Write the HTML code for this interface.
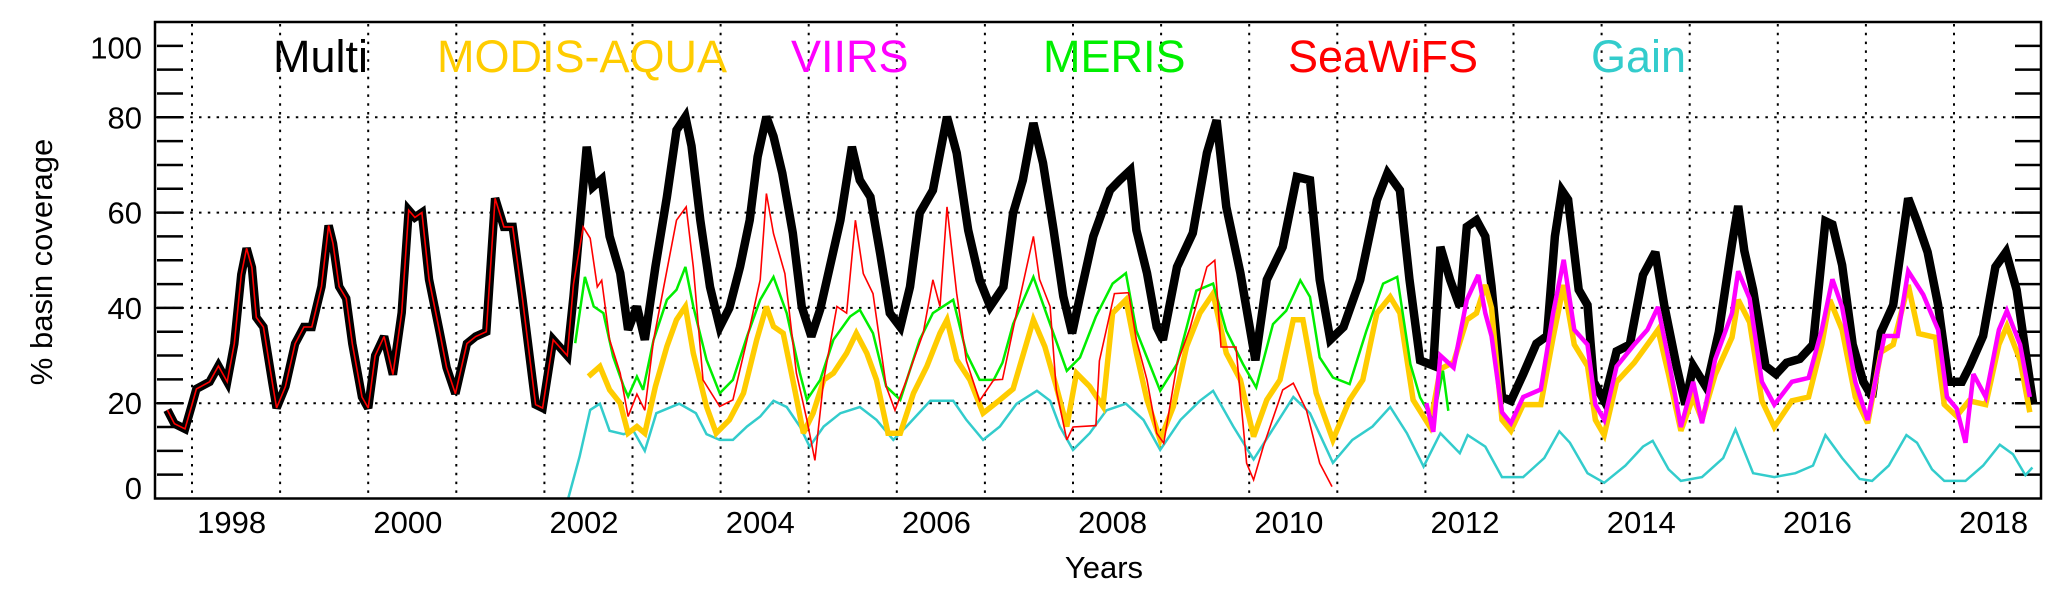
<!DOCTYPE html>
<html><head><meta charset="utf-8"><style>
html,body{margin:0;padding:0;background:#fff;}
svg{display:block;font-family:"Liberation Sans",Arial,sans-serif;}
</style></head><body>
<svg id="chart" width="2067" height="598" viewBox="0 0 2067 598" xmlns="http://www.w3.org/2000/svg">
<rect x="0" y="0" width="2067" height="598" fill="#fff"/>
<g id="grid"></g>
<g id="ticks"></g>
<g id="series"></g>
<rect x="155" y="22" width="1886" height="476.5" fill="none" stroke="#000" stroke-width="2.5"/>
<g id="labels"></g>
<text x="1104" y="578" font-size="31" text-anchor="middle">Years</text>
<text transform="translate(52,262) rotate(-90)" font-size="31" text-anchor="middle">% basin coverage</text>
<g id="legend" font-size="45">
<text x="273" y="72" fill="#000">Multi</text>
<text x="437" y="72" fill="#ffcc00">MODIS-AQUA</text>
<text x="791" y="72" fill="#ff00ff">VIIRS</text>
<text x="1043" y="72" fill="#00ee00">MERIS</text>
<text x="1288" y="72" fill="#ff0000">SeaWiFS</text>
<text x="1591" y="72" fill="#33cccc">Gain</text>
</g>
</svg>
<script>
const yGridValues = [20,40,60,80];
const yTickValues = [5,10,15,20,25,30,35,40,45,50,55,60,65,70,75,80,85,90,95];
const yLabelValues = [100,80,60,40,20,0];
const yLabelAt = [94.6,80,60,40,20,2.2];
const xYearLines = [1998,1999,2000,2001,2002,2003,2004,2005,2006,2007,2008,2009,2010,2011,2012,2013,2014,2015,2016,2017,2018];
const xLabelYears = [1998,2000,2002,2004,2006,2008,2010,2012,2014,2016,2018];

const multiT = [1997.72,1997.8,1997.92,1998.0,1998.05,1998.2,1998.3,1998.4,1998.48,1998.56,1998.62,1998.68,1998.73,1998.81,1998.91,1998.96,1999.06,1999.17,1999.27,1999.36,1999.47,1999.55,1999.6,1999.67,1999.75,1999.82,1999.93,2000.0,2000.08,2000.18,2000.28,2000.38,2000.46,2000.53,2000.61,2000.69,2000.81,2000.89,2000.99,2001.12,2001.22,2001.34,2001.44,2001.54,2001.64,2001.75,2001.9,2001.98,2002.1,2002.26,
2002.33,2002.48,2002.55,2002.65,2002.74,2002.86,2002.95,2003.05,2003.14,2003.26,2003.39,2003.5,2003.6,2003.67,2003.77,2003.88,2003.99,2004.1,2004.22,2004.33,2004.42,2004.52,2004.6,2004.7,2004.82,2004.92,2005.03,2005.13,2005.24,2005.36,2005.49,2005.58,2005.7,2005.81,2005.92,2006.04,2006.15,2006.26,2006.41,2006.57,2006.68,2006.81,2006.94,2007.06,2007.21,2007.32,2007.43,2007.55,2007.66,2007.78,2007.89,2007.99,2008.08,2008.23,2008.42,2008.53,2008.65,2008.72,2008.84,2008.95,2009.02,2009.18,2009.36,2009.52,2009.63,2009.74,2009.9,2010.07,2010.2,2010.38,2010.54,2010.69,2010.8,2010.92,2011.07,2011.26,2011.45,2011.57,2011.71,2011.82,2011.94,2012.09,2012.17,2012.28,2012.39,2012.47,2012.58,2012.68,2012.75,2012.87,2012.97,2013.11,2013.26,2013.38,2013.47,2013.55,2013.62,2013.74,2013.84,2013.91,2014.03,2014.17,2014.32,2014.47,2014.61,2014.71,2014.85,2014.95,2015.04,2015.19,2015.33,2015.48,2015.55,2015.62,2015.72,2015.86,2015.98,2016.1,2016.25,2016.4,2016.54,2016.62,2016.73,2016.85,2016.97,2017.07,2017.17,2017.31,2017.48,2017.58,2017.7,2017.82,2017.94,2018.09,2018.18,2018.33,2018.47,2018.59,2018.71,2018.81,2018.9];
const multiV = [18.6,15.7,14.6,19.7,23,24.5,27.8,24.5,32.5,47,52.5,48.5,38,36,24.5,19,23.5,32.5,36,36,44.5,57.3,53.5,44.5,42,32.5,21.3,19,30,34,26,39,60.5,59,60,46,35,27.5,22,32.5,34,35,63,57,57,42,19.7,19,33.3,30,
42.4,73.8,65.4,67,55,47.3,35.4,40.3,33.3,48.6,63.3,77.3,80.1,74,58.4,44.4,36,40,48.6,58.4,71.7,80.1,76,68.3,55.7,40.3,34,39.7,48.6,58.4,73.8,66.8,63.3,51.5,38.9,36,44.4,59.9,64.7,80.1,72.5,56.3,45.9,40.3,44.4,59.9,66.8,78.8,70.4,56.3,42.4,34.7,42.4,55,64.7,66.8,68.9,56.3,47.3,36,33.3,48.6,55.7,72.5,79.4,61.2,47.3,29,45.9,52.8,67.5,66.8,45.9,33.3,36,45.9,62.6,68.3,64.7,45.9,29,27.9,52.8,45.9,40.3,57,58.4,55,44.6,21.3,20.5,26.1,32.5,34.1,55,64.6,62.7,43.8,40.6,24.5,20.5,30.9,32.3,46.9,51.7,40.6,27.8,19.7,27.8,23.3,34.9,53.4,61.4,52,43.8,27.8,26.1,28.5,29.3,32.3,58.2,57.5,49,32.3,24.5,21.3,34.9,40.6,63,58.2,51.7,40.6,24.5,24.5,27.8,34.1,48.6,51.7,43.8,31,19.7];

const seawifsT = [1997.72,1997.8,1997.92,1998.0,1998.05,1998.2,1998.3,1998.4,1998.48,1998.56,1998.62,1998.68,1998.73,1998.81,1998.91,1998.96,1999.06,1999.17,1999.27,1999.36,1999.47,1999.55,1999.6,1999.67,1999.75,1999.82,1999.93,2000.0,2000.08,2000.18,2000.28,2000.38,2000.46,2000.53,2000.61,2000.69,2000.81,2000.89,2000.99,2001.12,2001.22,2001.34,2001.44,2001.54,2001.64,2001.75,2001.9,2001.98,2002.1,2002.26,
2002.33,2002.44,2002.52,2002.6,2002.65,2002.74,2002.86,2002.95,2003.05,2003.14,2003.24,2003.37,2003.5,2003.61,2003.69,2003.8,2003.99,2004.14,2004.3,2004.45,2004.52,2004.6,2004.73,2004.86,2004.98,2005.07,2005.17,2005.32,2005.43,2005.53,2005.62,2005.73,2005.88,2005.98,2006.11,2006.3,2006.41,2006.49,2006.57,2006.68,2006.79,2006.94,2007.1,2007.2,2007.36,2007.55,2007.62,2007.74,2007.81,2007.93,2008.0,2008.26,2008.3,2008.47,2008.63,2008.72,2008.84,2008.95,2009.03,2009.18,2009.33,2009.52,2009.61,2009.68,2009.85,2009.97,2010.05,2010.16,2010.38,2010.5,2010.65,2010.8,2010.94];
const seawifsV = [18.6,15.7,14.6,19.7,23,24.5,27.8,24.5,32.5,47,52.5,48.5,38,36,24.5,19,23.5,32.5,36,36,44.5,57.3,53.5,44.5,42,32.5,21.3,19,30,34,26,39,60.5,59,60,46,35,27.5,22,32.5,34,35,63,57,57,42,19.7,19,33.3,30,
45,57,54.6,44.4,45.8,33.3,26.3,17.2,21.9,18.5,33.3,45.9,58.4,61.2,48.6,24.9,19.3,20.7,33.3,45.9,64,55.6,47.2,26.3,16.5,8,24.9,40.3,38.9,58.4,47.2,43,23.5,18.5,24.9,34.7,45.9,40.3,61.2,43,28.9,20.5,24.9,25,39,55,46,40.3,22.8,12.3,15,15.3,28.9,43,43.2,33.3,24.9,13.7,11.6,28.2,35.9,48.6,50,31.8,31.8,7.4,3.9,10.9,22.8,24.2,18.5,7.4,2.5];

const merisT = [2002.35,2002.46,2002.56,2002.67,2002.78,2002.9,2002.95,2003.05,2003.12,2003.24,2003.39,2003.5,2003.6,2003.69,2003.84,2003.99,2004.14,2004.3,2004.45,2004.6,2004.75,2004.9,2004.98,2005.13,2005.28,2005.47,2005.58,2005.73,2005.88,2006.04,2006.26,2006.41,2006.64,2006.79,2006.94,2007.1,2007.2,2007.32,2007.55,2007.74,2007.93,2008.08,2008.26,2008.45,2008.6,2008.72,2008.87,2008.99,2009.18,2009.4,2009.59,2009.74,2009.93,2010.08,2010.27,2010.42,2010.58,2010.69,2010.8,2010.95,2011.14,2011.33,2011.52,2011.68,2011.83,2011.94,2012.09,2012.2,2012.26];
const merisV = [32.6,46.5,40.3,38.9,29.8,23.5,21.4,25.6,22.8,33.3,41.7,43.8,48.6,40.3,29.1,22.1,24.9,34,41.7,46.5,38.9,26.3,20.7,24.9,33.3,38.2,39.6,34.7,23.5,20.7,33.3,38.9,41.7,30.5,24.9,24.9,28.5,36.6,46.5,36.6,26.8,29.6,38.2,45.1,47.3,35.2,28.2,22.6,28.2,43.6,45.1,35.2,28.2,23.3,36.6,39.4,45.8,42.3,29.6,25.4,24,35.2,45.1,46.5,28.2,21.2,16.3,26.8,18.4];

const modisT = [2002.5,2002.63,2002.74,2002.86,2002.95,2003.05,2003.14,2003.26,2003.39,2003.5,2003.6,2003.69,2003.84,2003.95,2004.1,2004.26,2004.41,2004.52,2004.6,2004.71,2004.82,2004.94,2005.05,2005.17,2005.28,2005.43,2005.54,2005.66,2005.77,2005.9,2006.04,2006.19,2006.34,2006.49,2006.57,2006.68,2006.83,2006.98,2007.17,2007.32,2007.55,2007.68,2007.81,2007.93,2008.04,2008.19,2008.34,2008.45,2008.6,2008.72,2008.84,2008.99,2009.14,2009.29,2009.44,2009.59,2009.74,2009.9,2010.05,2010.2,2010.35,2010.5,2010.61,2010.76,2010.95,2011.14,2011.29,2011.45,2011.6,2011.71,2011.86,2012.05,2012.17,2012.32,2012.47,2012.58,2012.68,2012.75,2012.87,2012.97,2013.11,2013.31,2013.45,2013.57,2013.69,2013.84,2013.93,2014.03,2014.17,2014.37,2014.52,2014.64,2014.76,2014.9,2015.04,2015.14,2015.29,2015.48,2015.55,2015.68,2015.82,2015.96,2016.16,2016.35,2016.5,2016.59,2016.73,2016.88,2017.02,2017.17,2017.31,2017.48,2017.6,2017.79,2017.89,2018.03,2018.17,2018.36,2018.51,2018.6,2018.75,2018.86];
const modisV = [25.6,27.7,22.8,20,13.7,15.1,13.7,23.5,31.9,37.5,40.3,30.5,19.3,13.7,16.5,22.1,33.3,40.3,36.1,34.7,24.9,13.7,17.9,24.9,26.3,30.5,34.7,30.5,24.9,13.7,13.7,22.1,27.7,34.7,37.5,29.1,24.9,17.9,20.7,23,37.5,31.9,23.5,15.1,26.3,23.5,19.3,38.9,41.7,30.5,20.7,12.3,19.3,31.9,38.9,43,30.5,24.9,13,20.7,24.9,37.5,37.5,22.1,12.3,20.7,24.9,38.9,42.3,38.9,20.7,15.1,27.2,28.6,37.5,38.9,44.8,40,16.5,14.2,19.7,19.7,33.8,44.8,32.3,27.8,16.5,13.3,24.5,28.5,32.3,35.4,26,14.2,21.3,16.5,26,33.8,41.7,37,20.5,15,20.5,21.3,32.3,41.7,35.4,21.3,15.8,30.7,32.3,44.8,34.6,33.8,19.7,17.3,20.5,19.7,32.3,36.2,29,18.1];

const viirsT = [2012.01,2012.09,2012.17,2012.32,2012.47,2012.6,2012.68,2012.75,2012.87,2012.97,2013.11,2013.31,2013.45,2013.57,2013.69,2013.84,2013.93,2014.03,2014.17,2014.37,2014.52,2014.64,2014.76,2014.9,2015.04,2015.14,2015.29,2015.48,2015.55,2015.68,2015.82,2015.96,2016.16,2016.35,2016.5,2016.62,2016.73,2016.88,2017.02,2017.21,2017.36,2017.48,2017.65,2017.82,2017.92,2018.03,2018.13,2018.22,2018.36,2018.51,2018.6,2018.75,2018.86];
const viirsV = [20,14,30,27.5,41.7,46.9,38.9,34.1,18.1,15.8,21.3,22.9,38.9,50.1,35.4,32.3,19.7,16.5,27.7,32.3,35.4,40.2,29.2,15,24.5,15.8,29.2,38.9,47.7,42,24.5,19.7,24.5,25.3,35.4,46,40.2,24.5,16.5,34.1,34.1,47.7,42.8,35.4,21.3,18.9,11.7,26.1,21.3,35.4,39.4,32.3,21.3];

const gainT = [2002.27,2002.4,2002.52,2002.63,2002.74,2002.9,2003.01,2003.14,2003.27,2003.53,2003.72,2003.84,2003.99,2004.14,2004.3,2004.45,2004.6,2004.75,2004.9,2005.01,2005.17,2005.36,2005.58,2005.77,2005.96,2006.11,2006.38,2006.64,2006.79,2006.98,2007.17,2007.36,2007.59,2007.74,2007.85,2008.0,2008.19,2008.38,2008.6,2008.8,2008.99,2009.22,2009.44,2009.59,2009.82,2010.05,2010.24,2010.5,2010.69,2010.95,2011.17,2011.4,2011.6,2011.79,2011.98,2012.17,2012.39,2012.48,2012.68,2012.87,2013.11,2013.35,2013.52,2013.64,2013.84,2014.03,2014.27,2014.47,2014.58,2014.76,2014.9,2015.14,2015.38,2015.52,2015.72,2015.96,2016.2,2016.4,2016.54,2016.73,2016.93,2017.07,2017.26,2017.46,2017.58,2017.75,2017.89,2018.13,2018.33,2018.52,2018.67,2018.81,2018.89];
const gainV = [0,8.8,18.6,19.9,14.2,13.5,14.2,10,17.9,19.9,17.9,13.5,12.3,12.3,15.1,17.2,20.5,19.2,15.1,10.9,15.1,17.9,19.2,16.5,12.3,15.1,20.5,20.5,16.5,12.3,15.1,19.9,22.6,20.5,15.1,10.2,13.7,18.5,19.9,16.5,10.2,16.5,20.5,22.6,15.1,8.2,13.7,21.3,17.9,7.5,12.3,15.1,19.2,13.7,6.7,13.7,9.5,13.3,10.9,4.5,4.5,8.5,14.1,11.7,5.3,3.3,6.9,10.9,12.1,6.1,3.7,4.5,8.5,14.5,5.3,4.5,5.3,6.9,13.3,8.5,4.1,3.7,6.9,13.3,11.7,6.1,3.7,3.7,6.9,11.3,9.3,4.9,6.5];

const NS = 'http://www.w3.org/2000/svg';
function xScale(t){ return 192 + (t - 1998) * 88.1; }
function yScale(v){ return 498.5 - v * 4.765; }

const grid = document.getElementById('grid');
yGridValues.forEach(v => {
  const l = document.createElementNS(NS,'line');
  l.setAttribute('x1',155); l.setAttribute('x2',2041);
  l.setAttribute('y1',yScale(v)); l.setAttribute('y2',yScale(v));
  l.setAttribute('stroke','#000'); l.setAttribute('stroke-width','2'); l.setAttribute('stroke-dasharray','2.5 6.3');
  
  
  grid.appendChild(l);
});
xYearLines.forEach(y => {
  const l = document.createElementNS(NS,'line');
  l.setAttribute('x1',xScale(y)); l.setAttribute('x2',xScale(y));
  l.setAttribute('y1',24); l.setAttribute('y2',497);
  l.setAttribute('stroke','#000'); l.setAttribute('stroke-width','2'); l.setAttribute('stroke-dasharray','2.5 6.3');
  
  
  grid.appendChild(l);
});
const ticks = document.getElementById('ticks');
yTickValues.forEach(v => {
  [[157,183],[2015,2040]].forEach(([a,b]) => {
    const l = document.createElementNS(NS,'line');
    l.setAttribute('x1',a); l.setAttribute('x2',b);
    l.setAttribute('y1',yScale(v)); l.setAttribute('y2',yScale(v));
    l.setAttribute('stroke','#000'); l.setAttribute('stroke-width','2.5');
    
    
    ticks.appendChild(l);
  });
});
const labels = document.getElementById('labels');
yLabelValues.forEach((v,i) => {
  const t = document.createElementNS(NS,'text');
  t.setAttribute('x',142); t.setAttribute('y',yScale(yLabelAt[i]) + 11);
  t.setAttribute('font-size','31'); t.setAttribute('text-anchor','end');
  t.textContent = v;
  
  
  labels.appendChild(t);
});
xLabelYears.forEach(y => {
  const t = document.createElementNS(NS,'text');
  t.setAttribute('x',xScale(y + 0.45)); t.setAttribute('y',533);
  t.setAttribute('font-size','31'); t.setAttribute('text-anchor','middle');
  t.textContent = y;
  
  
  labels.appendChild(t);
});

const series = document.getElementById('series');
function drawLine(ts, vs, color, width, name){
  const p = document.createElementNS(NS,'polyline');
  p.setAttribute('points', ts.map((t,i) => xScale(t).toFixed(1)+','+yScale(vs[i]).toFixed(1)).join(' '));
  p.setAttribute('fill','none'); p.setAttribute('stroke',color); p.setAttribute('stroke-width',width);
  p.setAttribute('stroke-linejoin','miter'); p.setAttribute('stroke-miterlimit','3');
  
  
  series.appendChild(p);
}
drawLine(multiT, multiV, '#000', 8.5, 'multi-line');
drawLine(gainT, gainV, '#33cccc', 2.5, 'gain-line');
drawLine(modisT, modisV, '#ffcc00', 5.5, 'modis-aqua-line');
drawLine(merisT, merisV, '#00ee00', 2.5, 'meris-line');
drawLine(seawifsT, seawifsV, '#ff0000', 1.6, 'seawifs-line');
drawLine(viirsT, viirsV, '#ff00ff', 4.5, 'viirs-line');
</script>
</body></html>
